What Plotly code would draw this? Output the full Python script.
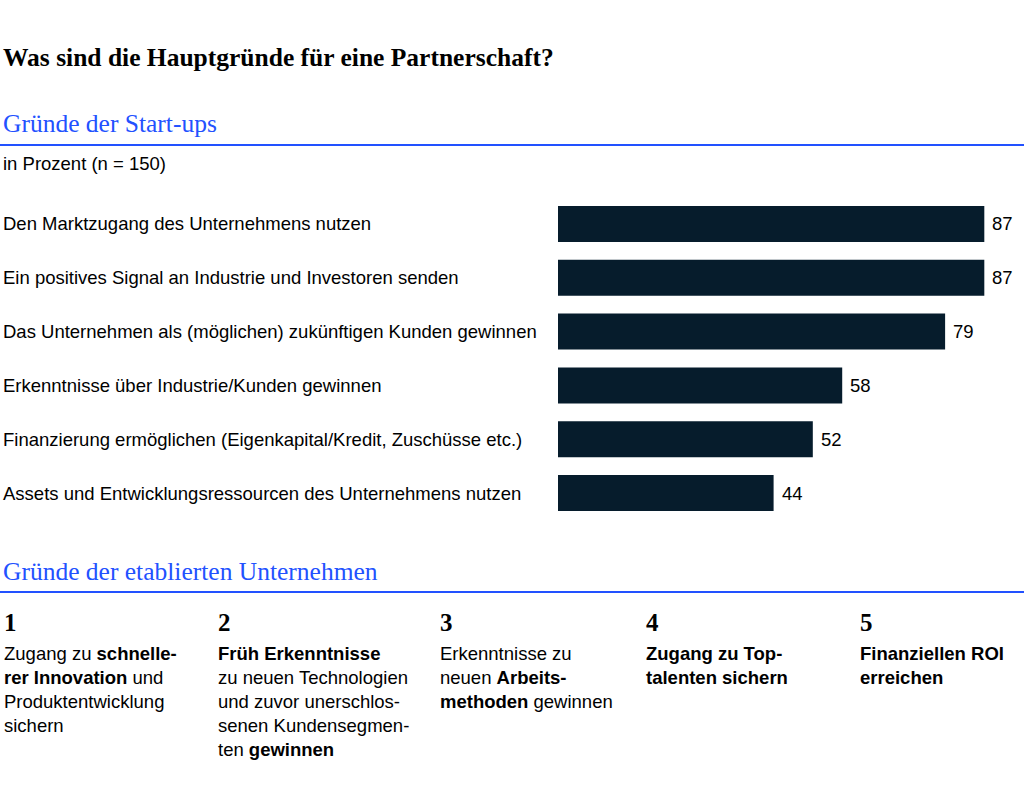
import plotly.graph_objects as go

# ---------------- data ----------------
title_text = "Was sind die Hauptgründe für eine Partnerschaft?"
section1_title = "Gründe der Start-ups"
section1_sub = "in Prozent (n = 150)"
section2_title = "Gründe der etablierten Unternehmen"

categories = [
    "Den Marktzugang des Unternehmens nutzen",
    "Ein positives Signal an Industrie und Investoren senden",
    "Das Unternehmen als (möglichen) zukünftigen Kunden gewinnen",
    "Erkenntnisse über Industrie/Kunden gewinnen",
    "Finanzierung ermöglichen (Eigenkapital/Kredit, Zuschüsse etc.)",
    "Assets und Entwicklungsressourcen des Unternehmens nutzen",
]
values = [87, 87, 79, 58, 52, 44]

reason_numbers = ["1", "2", "3", "4", "5"]
reason_lines = [
    ["Zugang zu <b>schnelle-</b>", "<b>rer Innovation</b> und", "Produktentwicklung", "sichern"],
    ["<b>Früh Erkenntnisse</b>", "zu neuen Technologien", "und zuvor unerschlos-",
     "senen Kundensegmen-", "ten <b>gewinnen</b>"],
    ["Erkenntnisse zu", "neuen <b>Arbeits-</b>", "<b>methoden</b> gewinnen"],
    ["<b>Zugang zu Top-</b>", "<b>talenten sichern</b>"],
    ["<b>Finanziellen ROI</b>", "<b>erreichen</b>"],
]

# ---------------- style ----------------
W, H = 1024, 793
BAR_COLOR = "#061c2c"
BLUE = "#2251ff"
TEXT = "#000000"
SANS = "Liberation Sans, Arial, sans-serif"
SERIF = "Liberation Serif, Times New Roman, serif"
SANS_SIZE = 18.5


def py(px):
    return 1 - px / H


def px_x(px):
    return px / W


fig = go.Figure()
fig.add_trace(go.Bar(
    x=values,
    y=categories,
    orientation="h",
    marker=dict(color=BAR_COLOR, line=dict(width=0)),
    width=0.67,
    hoverinfo="skip",
))

ann = []
# title + headers
ann.append(dict(text=f"<b>{title_text}</b>", x=px_x(1), y=py(58), xref="paper", yref="paper",
                xanchor="left", yanchor="middle", showarrow=False,
                font=dict(family=SERIF, size=25.5, color=TEXT)))
ann.append(dict(text=section1_title, x=px_x(1), y=py(124), xref="paper", yref="paper",
                xanchor="left", yanchor="middle", showarrow=False,
                font=dict(family=SERIF, size=25.5, color=BLUE)))
ann.append(dict(text=section1_sub, x=px_x(1), y=py(163), xref="paper", yref="paper",
                xanchor="left", yanchor="middle", showarrow=False,
                font=dict(family=SANS, size=SANS_SIZE, color=TEXT)))
ann.append(dict(text=section2_title, x=px_x(1), y=py(571), xref="paper", yref="paper",
                xanchor="left", yanchor="middle", showarrow=False,
                font=dict(family=SERIF, size=25.5, color=BLUE)))

# category labels and value labels
for c, v in zip(categories, values):
    ann.append(dict(text=c, x=px_x(1), y=c, xref="paper", yref="y",
                    xanchor="left", yanchor="middle", showarrow=False,
                    font=dict(family=SANS, size=SANS_SIZE, color=TEXT)))
    ann.append(dict(text=str(v), x=v, y=c, xref="x", yref="y", xshift=6,
                    xanchor="left", yanchor="middle", showarrow=False,
                    font=dict(family=SANS, size=SANS_SIZE, color=TEXT)))

# bottom columns
col_x = [2, 216, 438, 644, 858]
for cx, num, lines in zip(col_x, reason_numbers, reason_lines):
    ann.append(dict(text=f"<b>{num}</b>", x=px_x(cx), y=py(622), xref="paper", yref="paper",
                    xanchor="left", yanchor="middle", showarrow=False,
                    font=dict(family=SERIF, size=25, color=TEXT)))
    for i, line in enumerate(lines):
        ann.append(dict(text=line, x=px_x(cx), y=py(653 + 24 * i), xref="paper", yref="paper",
                        xanchor="left", yanchor="middle", showarrow=False,
                        font=dict(family=SANS, size=SANS_SIZE, color=TEXT)))

shapes = [
    dict(type="line", xref="paper", yref="paper", x0=0, x1=1, y0=py(145), y1=py(145),
         line=dict(color=BLUE, width=2)),
    dict(type="line", xref="paper", yref="paper", x0=0, x1=1, y0=py(592), y1=py(592),
         line=dict(color=BLUE, width=2)),
]

fig.update_layout(
    width=W, height=H,
    margin=dict(l=0, r=0, t=0, b=0),
    paper_bgcolor="white", plot_bgcolor="white",
    showlegend=False,
    bargap=0.33,
    xaxis=dict(domain=[558 / W, 1.0], range=[0, 95.1], visible=False, fixedrange=True),
    yaxis=dict(domain=[py(520), py(197)], autorange="reversed", visible=False, fixedrange=True),
    annotations=ann,
    shapes=shapes,
)

fig.write_html(
    "out.html",
    config={"displayModeBar": False},
    post_script="document.body.style.margin='0';document.body.style.overflow='hidden';",
)
